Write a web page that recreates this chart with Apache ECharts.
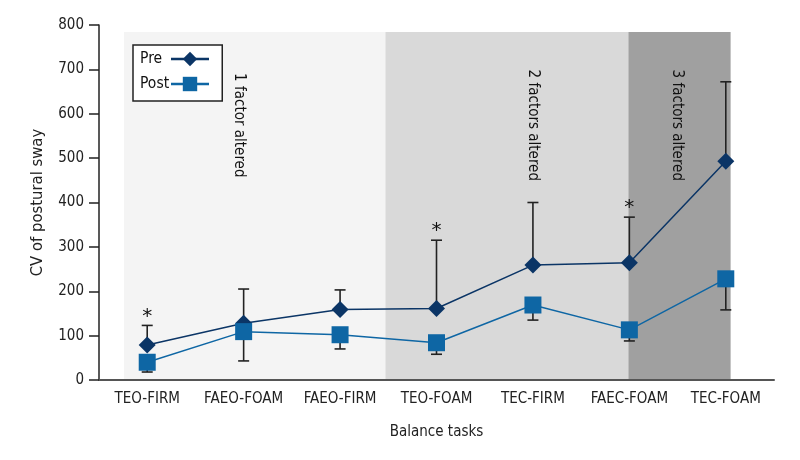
<!DOCTYPE html>
<html>
<head>
<meta charset="utf-8">
<script src="https://cdn.jsdelivr.net/npm/echarts@6/dist/echarts.min.js"></script>
<style>html,body{margin:0;padding:0;background:#fff}#c{width:800px;height:460px}</style>
</head>
<body>
<div id="c"></div>
<script>
// ---- data ----
const categories = ['TEO-FIRM', 'FAEO-FOAM', 'FAEO-FIRM', 'TEO-FOAM', 'TEC-FIRM', 'FAEC-FOAM', 'TEC-FOAM'];
const preValues  = [79, 128, 159, 161, 259, 264, 493];
const preUpper   = [123, 205, 203, 315, 400, 367, 672];
const postValues = [40, 109, 102, 84, 169, 113, 228];
const postLower  = [18, 43, 70, 58, 135, 88, 158];
const sigIndex   = [0, 3, 5];
const yTicks     = [0, 100, 200, 300, 400, 500, 600, 700, 800];
// shaded condition regions, in category-index units
const regionStart  = [-0.24, 2.47, 4.99];
const regionEnd    = [2.47, 4.99, 6.05];
const regionTop    = [784, 784, 784];
const regionLabels = ['1 factor altered', '2 factors altered', '3 factors altered'];
const regionLabelX = [0.95, 4.0, 5.49];
const regionLabelY = [574, 574, 574];

// ---- styles ----
const FONT = "'DejaVu Sans Condensed', 'DejaVu Sans', sans-serif";
const PRE = '#0b3566';
const POST = '#0e66a4';
const regionColors = ['#f4f4f4', '#d9d9d9', '#a0a0a0'];

const chart = echarts.init(document.getElementById('c'), null, {renderer: 'canvas'});

const shadeData = regionStart.map((s, i) => [s, regionEnd[i], regionTop[i], i]);
const labelData = regionLabelX.map((x, i) => [x, regionLabelY[i], i]);
const preErr = categories.map((c, i) => [i, preValues[i], preUpper[i]]);
const postErr = categories.map((c, i) => [i, postLower[i], postValues[i]]);
const sigData = sigIndex.map(i => [i, preUpper[i]]);

function errRender(capAtTop) {
  return function (params, api) {
    const lo = api.coord([api.value(0), api.value(1)]);
    const hi = api.coord([api.value(0), api.value(2)]);
    const capY = capAtTop ? hi[1] : lo[1];
    const half = 5.5;
    return {
      type: 'group',
      children: [
        {type: 'line', shape: {x1: lo[0], y1: lo[1], x2: hi[0], y2: hi[1]}, style: {stroke: '#222', lineWidth: 1.6}},
        {type: 'line', shape: {x1: hi[0] - half, y1: capY, x2: hi[0] + half, y2: capY}, style: {stroke: '#222', lineWidth: 1.6}}
      ]
    };
  };
}

const option = {
  animation: false,
  backgroundColor: '#fff',
  textStyle: {fontFamily: FONT},
  grid: {left: 99, right: 26, top: 25, bottom: 80, containLabel: false},
  legend: {
    data: ['Pre', 'Post'],
    orient: 'vertical',
    left: 133, top: 45,
    align: 'right',
    backgroundColor: '#fff',
    borderColor: '#222',
    borderWidth: 1.5,
    borderRadius: 0,
    padding: [6, 12, 9, 7],
    itemGap: 9,
    itemWidth: 38,
    itemHeight: 18,
    lineStyle: {width: 2.5},
    formatter: '{a|{name}}',
    textStyle: {
      fontFamily: FONT, fontSize: 15.5, color: '#111',
      rich: {a: {width: 26, align: 'left', fontFamily: FONT, fontSize: 15.5, color: '#111', lineHeight: 18}}
    }
  },
  xAxis: [
    {
      type: 'category',
      data: categories,
      boundaryGap: true,
      name: 'Balance tasks',
      nameLocation: 'middle',
      nameGap: 45,
      nameTextStyle: {fontFamily: FONT, fontSize: 15, color: '#222'},
      axisLine: {show: true, onZero: false, lineStyle: {color: '#555', width: 2}},
      axisTick: {show: false},
      axisLabel: {fontFamily: FONT, fontSize: 15, color: '#222', margin: 12, interval: 0},
      splitLine: {show: false}
    },
    {
      type: 'value', show: false, min: -0.5, max: 6.5,
      axisLine: {show: false, onZero: false}, splitLine: {show: false}
    }
  ],
  yAxis: {
    type: 'value',
    min: yTicks[0], max: yTicks[yTicks.length - 1], interval: 100,
    name: 'CV of postural sway',
    nameLocation: 'middle',
    nameGap: 53,
    nameTextStyle: {fontFamily: FONT, fontSize: 16.5, color: '#222'},
    axisLine: {show: true, onZero: false, lineStyle: {color: '#222', width: 1.5}},
    axisTick: {show: true, inside: false, length: 10, lineStyle: {color: '#222', width: 1.5}},
    axisLabel: {fontFamily: FONT, fontSize: 15, color: '#222', margin: 15},
    splitLine: {show: false}
  },
  series: [
    {
      name: 'shade', type: 'custom', xAxisIndex: 1, yAxisIndex: 0, z: 0, silent: true,
      data: shadeData,
      renderItem: function (params, api) {
        const a = api.coord([api.value(0), api.value(2)]);
        const b = api.coord([api.value(1), 0]);
        return {type: 'rect', shape: {x: a[0], y: a[1], width: b[0] - a[0], height: b[1] - a[1]},
                style: {fill: regionColors[api.value(3)]}};
      }
    },
    {
      name: 'regionText', type: 'custom', xAxisIndex: 1, yAxisIndex: 0, z: 1, silent: true,
      data: labelData,
      renderItem: function (params, api) {
        const p = api.coord([api.value(0), api.value(1)]);
        return {type: 'text', x: p[0], y: p[1], rotation: -Math.PI / 2,
                style: {text: regionLabels[api.value(2)], fontFamily: FONT, fontSize: 15, fill: '#111',
                        align: 'center', verticalAlign: 'middle'}};
      }
    },
    {name: 'preErr', type: 'custom', xAxisIndex: 0, yAxisIndex: 0, z: 2, silent: true, data: preErr, renderItem: errRender(true)},
    {name: 'postErr', type: 'custom', xAxisIndex: 0, yAxisIndex: 0, z: 2, silent: true, data: postErr, renderItem: errRender(false)},
    {
      name: 'sig', type: 'custom', xAxisIndex: 0, yAxisIndex: 0, z: 2, silent: true, data: sigData,
      renderItem: function (params, api) {
        const p = api.coord([api.value(0), api.value(1)]);
        return {type: 'text', x: p[0], y: p[1] - 9,
                style: {text: '*', fontFamily: 'DejaVu Sans', fontSize: 20, fill: '#111', align: 'center', verticalAlign: 'middle'}};
      }
    },
    {
      name: 'Pre', type: 'line', data: preValues, z: 3,
      symbol: 'diamond', symbolSize: 17,
      lineStyle: {color: PRE, width: 1.5},
      itemStyle: {color: PRE},
      color: PRE
    },
    {
      name: 'Post', type: 'line', data: postValues, z: 3,
      symbol: 'rect', symbolSize: 17,
      lineStyle: {color: POST, width: 1.5},
      itemStyle: {color: POST},
      color: POST
    }
  ]
};
chart.setOption(option);
</script>
</body>
</html>
